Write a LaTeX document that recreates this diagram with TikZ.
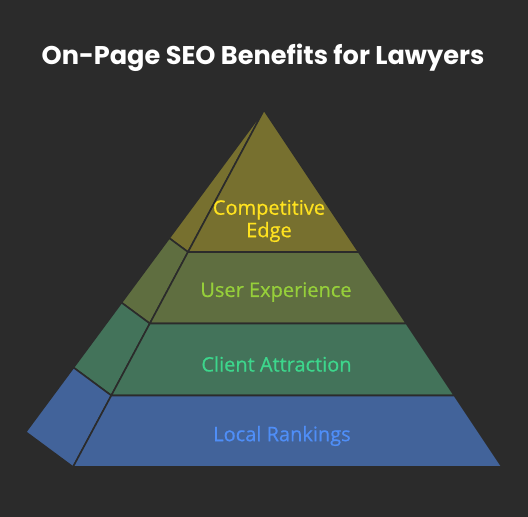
\documentclass[tikz,border=0pt]{standalone}
\usepackage{fontspec}
\setmainfont{Open Sans}
\newfontfamily\titlefont{Poppins}
\definecolor{bg}{HTML}{2B2B2B}
\definecolor{edge}{HTML}{2B2B2B}
\definecolor{bandA}{HTML}{77702F}
\definecolor{bandB}{HTML}{5F6E40}
\definecolor{bandC}{HTML}{43735A}
\definecolor{bandD}{HTML}{42639A}
\definecolor{txtA}{HTML}{FFE21F}
\definecolor{txtB}{HTML}{96CF3A}
\definecolor{txtC}{HTML}{3DD68C}
\definecolor{txtD}{HTML}{4F8EF7}
\begin{document}
\begin{tikzpicture}[x=1pt,y=-1pt,
  face/.style={draw=edge,line width=1.6pt,line join=round},
  lbl/.style={font=\fontsize{20}{22.5}\selectfont\addfontfeature{FakeBold=0.6},align=center,inner sep=0pt}]
\fill[bg] (0,0) rectangle (528,517);
\useasboundingbox (0,0) rectangle (528,517);
% key points
\coordinate (T) at (264,110);
\coordinate (L1) at (188.0,252);   \coordinate (R1) at (358.7,252);   \coordinate (B1) at (169.2,238.1);
\coordinate (L2) at (149.8,323.5); \coordinate (R2) at (406.4,323.5); \coordinate (B2) at (121.5,302.6);
\coordinate (L3) at (111.3,395.5); \coordinate (R3) at (454.4,395.5); \coordinate (B3) at (73.5,367.5);
\coordinate (L4) at (73.0,467);    \coordinate (R4) at (502.1,467);   \coordinate (B4) at (25.7,432);
% side faces
\draw[face,fill=bandA] (T) -- (L1) -- (B1) -- cycle;
\draw[face,fill=bandB] (B1) -- (L1) -- (L2) -- (B2) -- cycle;
\draw[face,fill=bandC] (B2) -- (L2) -- (L3) -- (B3) -- cycle;
\draw[face,fill=bandD] (B3) -- (L3) -- (L4) -- (B4) -- cycle;
% front faces
\draw[face,fill=bandA] (T) -- (R1) -- (L1) -- cycle;
\draw[face,fill=bandB] (L1) -- (R1) -- (R2) -- (L2) -- cycle;
\draw[face,fill=bandC] (L2) -- (R2) -- (R3) -- (L3) -- cycle;
\draw[face,fill=bandD] (L3) -- (R3) -- (R4) -- (L4) -- cycle;
% title
\node[inner sep=0pt,text=white,font=\titlefont\bfseries\fontsize{25.6}{30}\selectfont] (title) at (263,58) {On-Page SEO Benefits for Lawyers};
% labels
\node[lbl,text=txtA] (edgeL) at (269,221) {Competitive\\Edge};
\node[lbl,text=txtB] (ux) at (276,292) {User Experience};
\node[lbl,text=txtC] (ca) at (276.5,364) {Client Attraction};
\node[lbl,text=txtD] (lr) at (282,436) {Local Rankings};
\end{tikzpicture}
\end{document}
